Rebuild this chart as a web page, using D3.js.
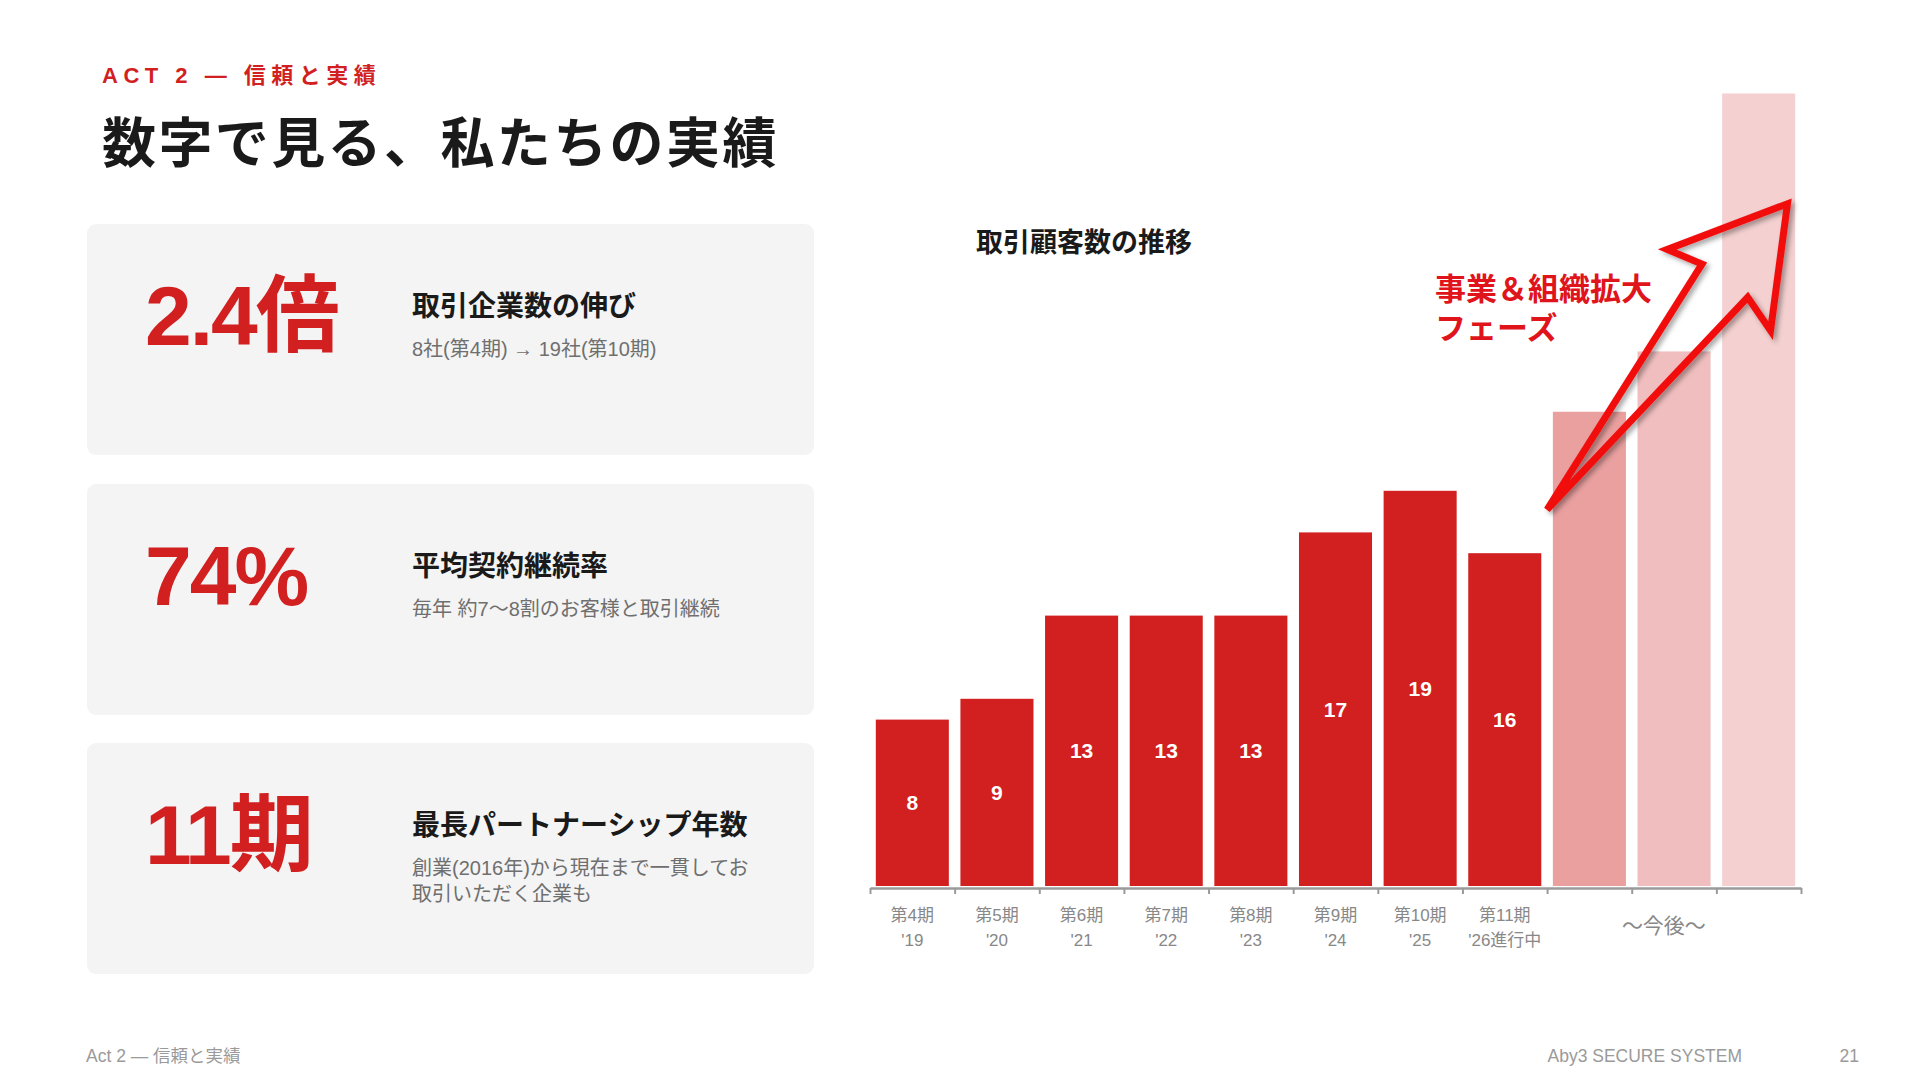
<!DOCTYPE html>
<html lang="ja">
<head>
<meta charset="utf-8">
<title>数字で見る、私たちの実績</title>
<script src="https://cdn.jsdelivr.net/npm/d3@7"></script>
<style>
  html, body { margin: 0; padding: 0; background: #fff; }
  svg { display: block; font-family: "Liberation Sans", "Noto Sans CJK JP", sans-serif; }
</style>
</head>
<body>
<div id="chart"></div>
<script>
// ---- data ----
const periods = ["第4期", "第5期", "第6期", "第7期", "第8期", "第9期", "第10期", "第11期", "", "", ""];
const years = ["'19", "'20", "'21", "'22", "'23", "'24", "'25", "'26進行中", "", "", ""];
const customers = [8, 9, 13, 13, 13, 17, 19, 16, 22.8, 25.7, 38.1];
const actualCount = 8; // bars after this are the projection
const futureLabel = "～今後～";

const statValues = ["2.4倍", "74%", "11期"];
const statTitles = ["取引企業数の伸び", "平均契約継続率", "最長パートナーシップ年数"];
const statNotes = [
    ["8社(第4期) → 19社(第10期)"],
    ["毎年 約7～8割のお客様と取引継続"],
    ["創業(2016年)から現在まで一貫してお", "取引いただく企業も"]
];

// arrow outline in chart units: [band index, customers]
const arrowPoints = [[8.0, 18.1], [9.83, 29.9], [9.42, 30.6], [10.84, 32.8], [10.64, 26.7], [10.37, 28.3]];

// ---- styles ----
const RED = "#d21f1f";
const futureColors = ["#e9a09f", "#f0bebe", "#f4d0d0"];
const width = 1920, height = 1080;

const svg = d3.select("#chart").append("svg")
    .attr("width", width)
    .attr("height", height);

const defs = svg.append("defs");
const shadow = defs.append("filter").attr("id", "shadow")
    .attr("x", "-20%").attr("y", "-20%").attr("width", "140%").attr("height", "140%");
shadow.append("feDropShadow")
    .attr("dx", 3).attr("dy", 3).attr("stdDeviation", 2.5)
    .attr("flood-color", "#000").attr("flood-opacity", 0.35);

// ---- header ----
svg.append("text")
    .attr("x", 102).attr("y", 83)
    .attr("fill", RED)
    .style("font-size", "22px").style("font-weight", "bold")
    .style("letter-spacing", "5.5px")
    .text("ACT 2 — 信頼と実績");

svg.append("text")
    .attr("x", 102).attr("y", 163)
    .attr("fill", "#1a1a1a")
    .style("font-size", "54px").style("font-weight", "bold")
    .style("letter-spacing", "2.4px")
    .text("数字で見る、私たちの実績");

// ---- stat cards ----
const cardTop = [224, 484, 743];
const cards = svg.selectAll(".card")
    .data(statValues)
    .enter()
    .append("g")
    .attr("class", "card")
    .attr("transform", (d, i) => `translate(87, ${cardTop[i]})`);

cards.append("rect")
    .attr("width", 727).attr("height", 231)
    .attr("rx", 9)
    .attr("fill", "#f4f4f4");

cards.append("text")
    .attr("x", 58).attr("y", 121)
    .attr("fill", RED)
    .style("font-size", "84px").style("font-weight", "bold")
    .style("letter-spacing", "-2px")
    .text(d => d);

cards.append("text")
    .attr("x", 325).attr("y", 92)
    .attr("fill", "#1a1a1a")
    .style("font-size", "28px").style("font-weight", "bold")
    .text((d, i) => statTitles[i]);

cards.each(function(d, i) {
    d3.select(this).selectAll(".note")
        .data(statNotes[i])
        .enter()
        .append("text")
        .attr("class", "note")
        .attr("x", 325)
        .attr("y", (t, j) => 132 + j * 26)
        .attr("fill", "#6f6f6f")
        .style("font-size", "20px")
        .text(t => t);
});

// ---- bar chart ----
const x = d3.scaleBand()
    .domain(d3.range(customers.length))
    .range([870, 1801])
    .paddingInner(0.137)
    .paddingOuter(0.0685);

// boundary scale for the tick marks between bars
const xEdge = d3.scaleLinear()
    .domain([0, customers.length])
    .range([870, 1801]);

const y = d3.scaleLinear()
    .domain([0, 40])
    .range([886, 886 - 40 * 20.8]);

svg.append("text")
    .attr("x", 976).attr("y", 252)
    .attr("fill", "#1a1a1a")
    .style("font-size", "27px").style("font-weight", "bold")
    .text("取引顧客数の推移");

function barColor(i) {
    return i < actualCount ? RED : futureColors[i - actualCount];
}

svg.selectAll(".bar")
    .data(customers)
    .enter()
    .append("rect")
    .attr("class", "bar")
    .attr("x", (d, i) => x(i))
    .attr("y", d => y(d))
    .attr("width", x.bandwidth())
    .attr("height", d => y(0) - y(d))
    .attr("fill", (d, i) => barColor(i));

svg.selectAll(".value")
    .data(customers.slice(0, actualCount))
    .enter()
    .append("text")
    .attr("class", "value")
    .attr("x", (d, i) => x(i) + x.bandwidth() / 2)
    .attr("y", d => (y(d) + y(0)) / 2)
    .attr("text-anchor", "middle")
    .attr("dominant-baseline", "central")
    .attr("fill", "#fff")
    .style("font-size", "21px").style("font-weight", "bold")
    .text(d => d);

// axis with ticks on the band edges
const axis = svg.append("g")
    .attr("transform", `translate(0, ${y(0) + 2})`)
    .call(d3.axisBottom(xEdge)
        .tickValues(d3.range(customers.length + 1))
        .tickSize(6)
        .tickSizeOuter(0)
        .tickFormat(""));
axis.select(".domain").attr("stroke", "#9a9a9a").attr("stroke-width", 2.5);
axis.selectAll(".tick line").attr("stroke", "#9a9a9a").attr("stroke-width", 2);

// category labels
const catLabels = svg.append("g")
    .attr("fill", "#888")
    .style("font-size", "17px")
    .attr("text-anchor", "middle");

catLabels.selectAll(".period")
    .data(periods.slice(0, actualCount))
    .enter()
    .append("text")
    .attr("x", (d, i) => x(i) + x.bandwidth() / 2)
    .attr("y", 921)
    .text(d => d);

catLabels.selectAll(".year")
    .data(years.slice(0, actualCount))
    .enter()
    .append("text")
    .attr("x", (d, i) => x(i) + x.bandwidth() / 2)
    .attr("y", 946)
    .text(d => d);

catLabels.append("text")
    .attr("x", xEdge(9.38))
    .attr("y", 933)
    .style("font-size", "21px")
    .text(futureLabel);

// growth arrow
const arrowLine = d3.line()
    .x(d => xEdge(d[0]))
    .y(d => y(d[1]))
    .curve(d3.curveLinearClosed);

svg.append("path")
    .attr("d", arrowLine(arrowPoints))
    .attr("fill", "none")
    .attr("stroke", "#f20d0d")
    .attr("stroke-width", 7)
    .attr("stroke-linejoin", "miter")
    .attr("stroke-miterlimit", 6)
    .attr("filter", "url(#shadow)");

const note = svg.append("text")
    .attr("fill", "#e0141b")
    .style("font-size", "31px").style("font-weight", "bold");
note.append("tspan").attr("x", 1435).attr("y", 300).text("事業＆組織拡大");
note.append("tspan").attr("x", 1435).attr("y", 339).text("フェーズ");

// ---- footer ----
const footer = svg.append("g")
    .attr("fill", "#9a9a9a")
    .style("font-size", "17.5px");
footer.append("text").attr("x", 86).attr("y", 1062).text("Act 2 — 信頼と実績");
footer.append("text").attr("x", 1742).attr("y", 1062).attr("text-anchor", "end").text("Aby3 SECURE SYSTEM");
footer.append("text").attr("x", 1859).attr("y", 1062).attr("text-anchor", "end").text("21");
</script>
</body>
</html>
